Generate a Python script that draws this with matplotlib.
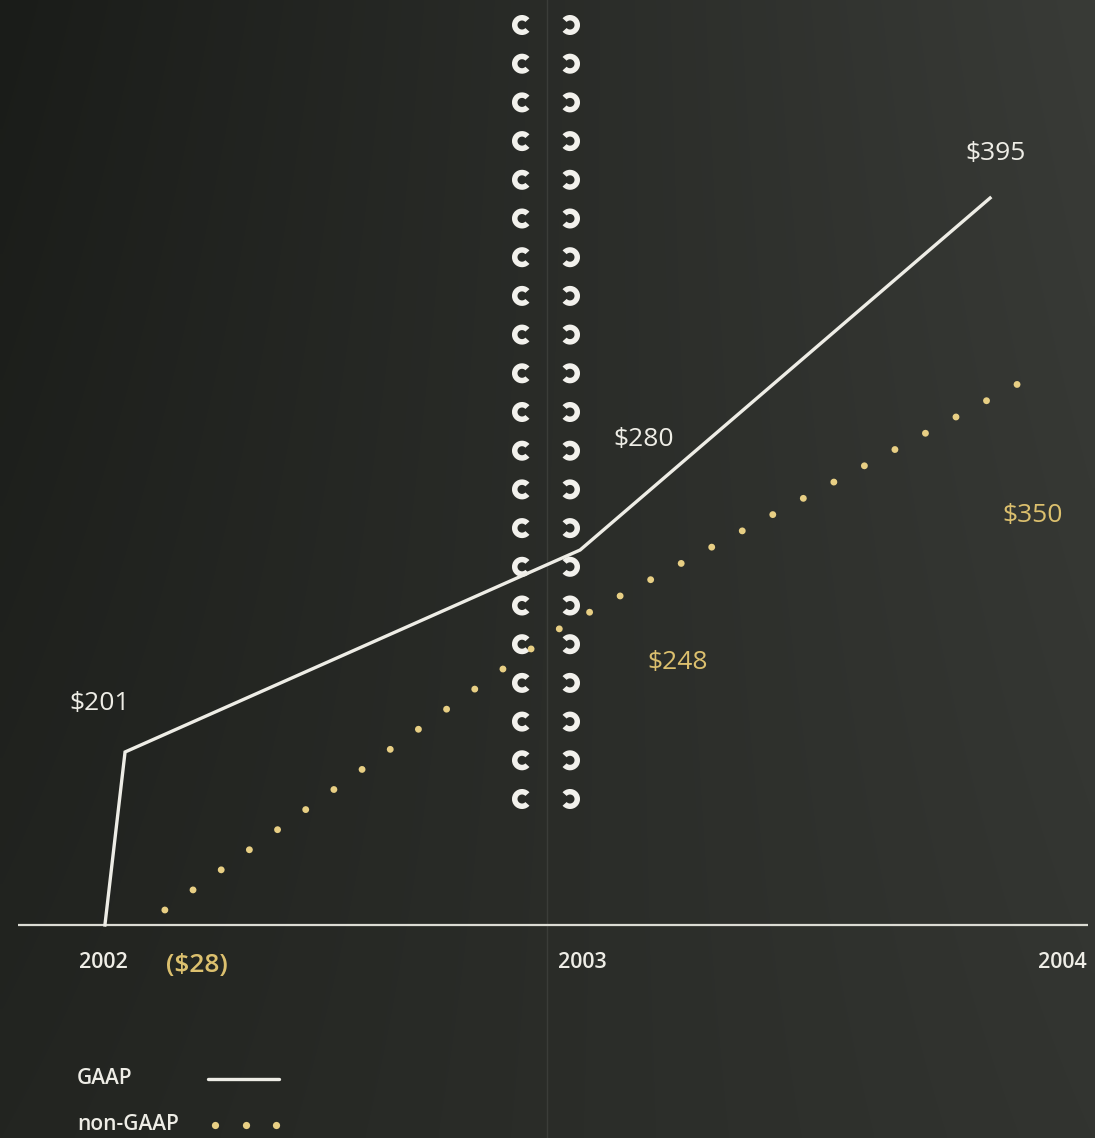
import numpy as np
import matplotlib
matplotlib.use("Agg")
import matplotlib.pyplot as plt
from matplotlib.patches import Wedge

plt.rcParams['font.family'] = ['Open Sans', 'DejaVu Sans']
plt.rcParams['lines.scale_dashes'] = False

# --- data (positions, chart is not to scale) ---
years = [2002, 2003, 2004]
year_labels = ['2002', '2003', '2004']

gaap_x = [2002.004, 2002.046, 2002.995, 2003.850]
gaap_h = [0, 173, 375, 727]
gaap_labels = [None, '$201', '$280', '$395']

nongaap_x = [2002.129, 2002.957, 2003.908]
nongaap_h = [15, 298, 541]
nongaap_labels = ['($28)', '$248', '$350']

WHITE = '#eeede6'
GOLD = '#dcc06e'
DOT = '#e8cf84'

W, H = 1095, 1138
fig = plt.figure(figsize=(W / 100, H / 100), dpi=100)

# background / decoration layer in pixel coords
bg = fig.add_axes([0, 0, 1, 1], zorder=0)
bg.set_xlim(0, W)
bg.set_ylim(H, 0)
bg.axis('off')

tl = np.array([26, 28, 25]); tr = np.array([57, 59, 55])
bl = np.array([35, 37, 33]); br = np.array([50, 52, 48])
u = np.linspace(0, 1, 200)[None, :, None]
v = np.linspace(0, 1, 200)[:, None, None]
grad = (tl * (1 - u) * (1 - v) + tr * u * (1 - v) + bl * (1 - u) * v + br * u * v) / 255
bg.imshow(grad, extent=(0, W, H, 0), aspect='auto', interpolation='bilinear')

# page fold
bg.plot([547, 547], [0, H], color='#3b3d39', lw=1.0)

# binding rings
for i in range(21):
    cy = 25 + i * 38.7
    bg.add_patch(Wedge((522, cy), 10, 42, 318, width=5.5, color='#f2f1ec', lw=0))
    bg.add_patch(Wedge((570, cy), 10, -138, 138, width=5.5, color='#f2f1ec', lw=0))

# legend
bg.text(77, 1078, 'GAAP', color=WHITE, fontsize=15, fontweight='semibold', ha='left', va='center')
bg.plot([208, 279], [1079, 1079], color=WHITE, lw=2.4, solid_capstyle='round')
bg.text(77, 1124, 'non-GAAP', color=WHITE, fontsize=15, fontweight='semibold', ha='left', va='center')
bg.plot([215, 246, 276], [1125, 1125, 1125], ls='none', marker='o', ms=5.2,
        mfc=DOT, mec='none')

# data layer
ax = fig.add_axes([0, 0, 1, 1], zorder=1)
ax.patch.set_alpha(0)
ax.axis('off')


def yr(px):
    return 2002 + (px - 103) / 479.5


ax.set_xlim(yr(0), yr(W))
ax.set_ylim(925 - H, 925)

ax.hlines(0, yr(18), yr(1088), color='#dcdcd4', lw=1.6)

ax.plot(gaap_x, gaap_h, color=WHITE, lw=2.4, solid_joinstyle='miter')
ax.plot(nongaap_x, nongaap_h, color=DOT, lw=5.0, linestyle=(0, (0.01, 24.9)),
        dash_capstyle='round')

gaap_off = [None, (-25, 49), (64, 111), (5, 45)]
for x, h, lab, off in zip(gaap_x, gaap_h, gaap_labels, gaap_off):
    if lab:
        ax.annotate(lab, (x, h), xytext=off, textcoords='offset pixels',
                    ha='center', va='center', color=WHITE, fontsize=19)

ng_off = [(32, -55), (116, -35), (15, -131)]
for x, h, lab, off in zip(nongaap_x, nongaap_h, nongaap_labels, ng_off):
    ax.annotate(lab, (x, h), xytext=off, textcoords='offset pixels',
                ha='center', va='center', color=GOLD, fontsize=19,
                fontweight='semibold' if lab.startswith('(') else 'normal')

for x, lab in zip(years, year_labels):
    ax.text(x, -38, lab, ha='center', va='center', color=WHITE,
            fontsize=15.5, fontweight='semibold')

fig.savefig('out.png', dpi=100)
